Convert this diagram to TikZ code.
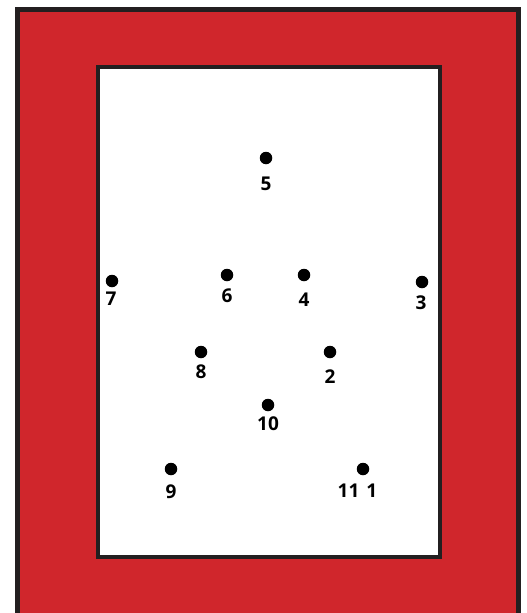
\documentclass[tikz,border=0pt]{standalone}
\usepackage{fontspec}
\setmainfont{Open Sans}
\definecolor{framered}{HTML}{D0262C}
\definecolor{darkline}{HTML}{231F20}
\tikzset{
  dotnode/.style={circle,fill=black,inner sep=0pt,minimum size=12.5pt},
  numlabel/.style={font=\bfseries\fontsize{19}{19}\selectfont,inner sep=0pt,text=black}
}
\begin{document}
\begin{tikzpicture}[x=1pt,y=-1pt]
\useasboundingbox (0,0) rectangle (527,613);
\clip (0,0) rectangle (527,613);
\fill[white] (0,0) rectangle (527,613);
\draw[line width=5pt,draw=darkline,fill=framered] (17.5,9.5) rectangle (518.5,630);
\draw[line width=4pt,draw=darkline,fill=white] (98,67) rectangle (440,556.5);
\node[dotnode] (d5) at (266,158) {};
\node[dotnode] (d7) at (112,281) {};
\node[dotnode] (d6) at (227,275) {};
\node[dotnode] (d4) at (304,275) {};
\node[dotnode] (d3) at (422,282) {};
\node[dotnode] (d8) at (201,352) {};
\node[dotnode] (d2) at (330,352) {};
\node[dotnode] (d10) at (268,405) {};
\node[dotnode] (d9) at (171,469) {};
\node[dotnode] (d11) at (363,469) {};
\node[numlabel] (l5) at (266,184) {5};
\node[numlabel] (l7) at (111,299) {7};
\node[numlabel] (l6) at (227,296) {6};
\node[numlabel] (l4) at (304,300) {4};
\node[numlabel] (l3) at (421,303) {3};
\node[numlabel] (l8) at (201,372) {8};
\node[numlabel] (l2) at (330,377) {2};
\node[numlabel] (l10) at (268,424) {10};
\node[numlabel] (l9) at (171,492) {9};
\node[numlabel] (l11) at (357.5,491) {11\hspace{7pt}1};
\end{tikzpicture}
\end{document}
